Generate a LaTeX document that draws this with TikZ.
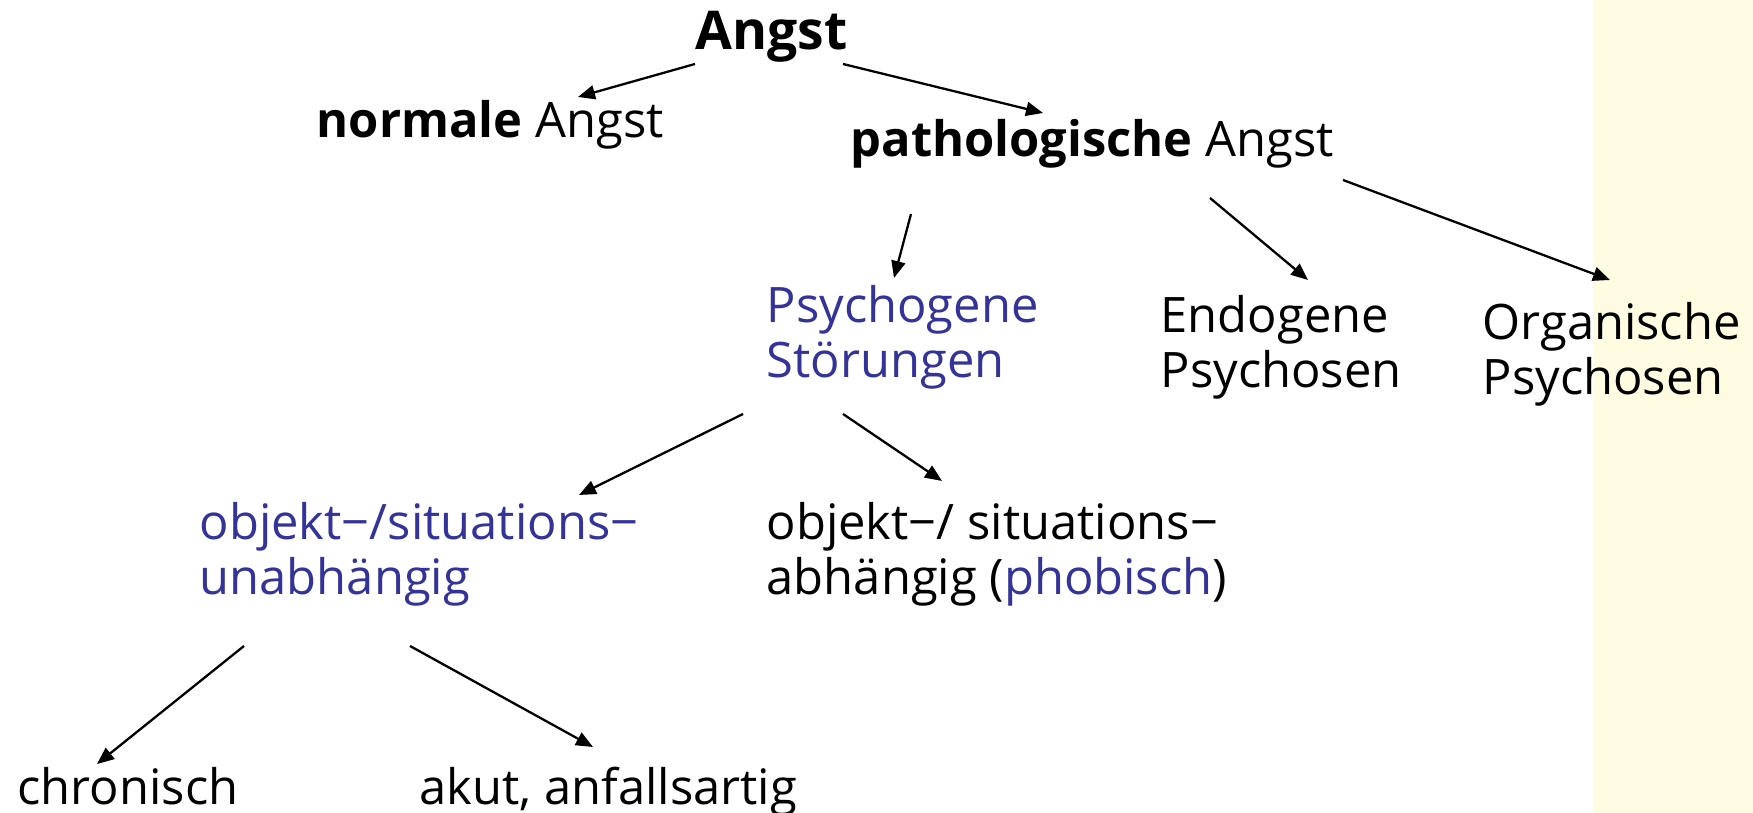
\documentclass[tikz,border=0pt]{standalone}
\usepackage{fontspec}
\setmainfont{Open Sans}
\usetikzlibrary{arrows.meta}
\definecolor{lila}{RGB}{51,51,153}
\definecolor{gelb}{RGB}{255,252,226}
\newcommand{\schrift}{\fontsize{13.9}{15.9}\selectfont}
\begin{document}
\begin{tikzpicture}[x=0.01cm,y=-0.01cm,
    txt/.style={anchor=base west,inner sep=0pt,align=left,font=\schrift},
    pfeil/.style={-{Triangle[length=1.7mm,width=1.4mm]},line width=0.65pt}]
    \useasboundingbox (0,0) rectangle (1753,813);
    \fill[gelb] (1593,0) rectangle (1753,813);
    \node[txt,font=\fontsize{15.2}{17}\selectfont\bfseries] (angst) at (695,50) {Angst};
    \node[txt] (norm) at (316,138) {\textbf{normale} Angst};
    \node[txt] (path) at (850,157) {\textbf{pathologische} Angst};
    \node[txt,text=lila] (psy) at (766,378) {Psychogene\\Störungen};
    \node[txt] (endo) at (1160,388) {Endogene\\Psychosen};
    \node[txt] (org) at (1482,395) {Organische\\Psychosen};
    \node[txt,text=lila] (unab) at (199,595) {objekt−/situations−\\unabhängig};
    \node[txt] (abh) at (766,595) {objekt−/ situations−\\abhängig (\textcolor{lila}{phobisch})};
    \node[txt] (chr) at (17,805) {chronisch};
    \node[txt] (akut) at (419,805) {akut, anfallsartig};
    \draw[pfeil] ([shift={(0,14)}]angst.base west) -- ([shift={(262,-41)}]norm.base west);
    \draw[pfeil] ([shift={(148,14)}]angst.base west) -- ([shift={(193,-44)}]path.base west);
    \draw[pfeil] ([shift={(61,57)}]path.base west) -- ([shift={(128,-100)}]psy.base west);
    \draw[pfeil] ([shift={(360,41)}]path.base west) -- ([shift={(148,-108)}]endo.base west);
    \draw[pfeil] ([shift={(493,23)}]path.base west) -- ([shift={(128,-115)}]org.base west);
    \draw[pfeil] ([shift={(-23,36)}]psy.base west) -- ([shift={(380,-100)}]unab.base west);
    \draw[pfeil] ([shift={(77,36)}]psy.base west) -- ([shift={(176,-114)}]abh.base west);
    \draw[pfeil] ([shift={(45,51)}]unab.base west) -- ([shift={(80,-41)}]chr.base west);
    \draw[pfeil] ([shift={(211,51)}]unab.base west) -- ([shift={(174,-58)}]akut.base west);
\end{tikzpicture}
\end{document}
